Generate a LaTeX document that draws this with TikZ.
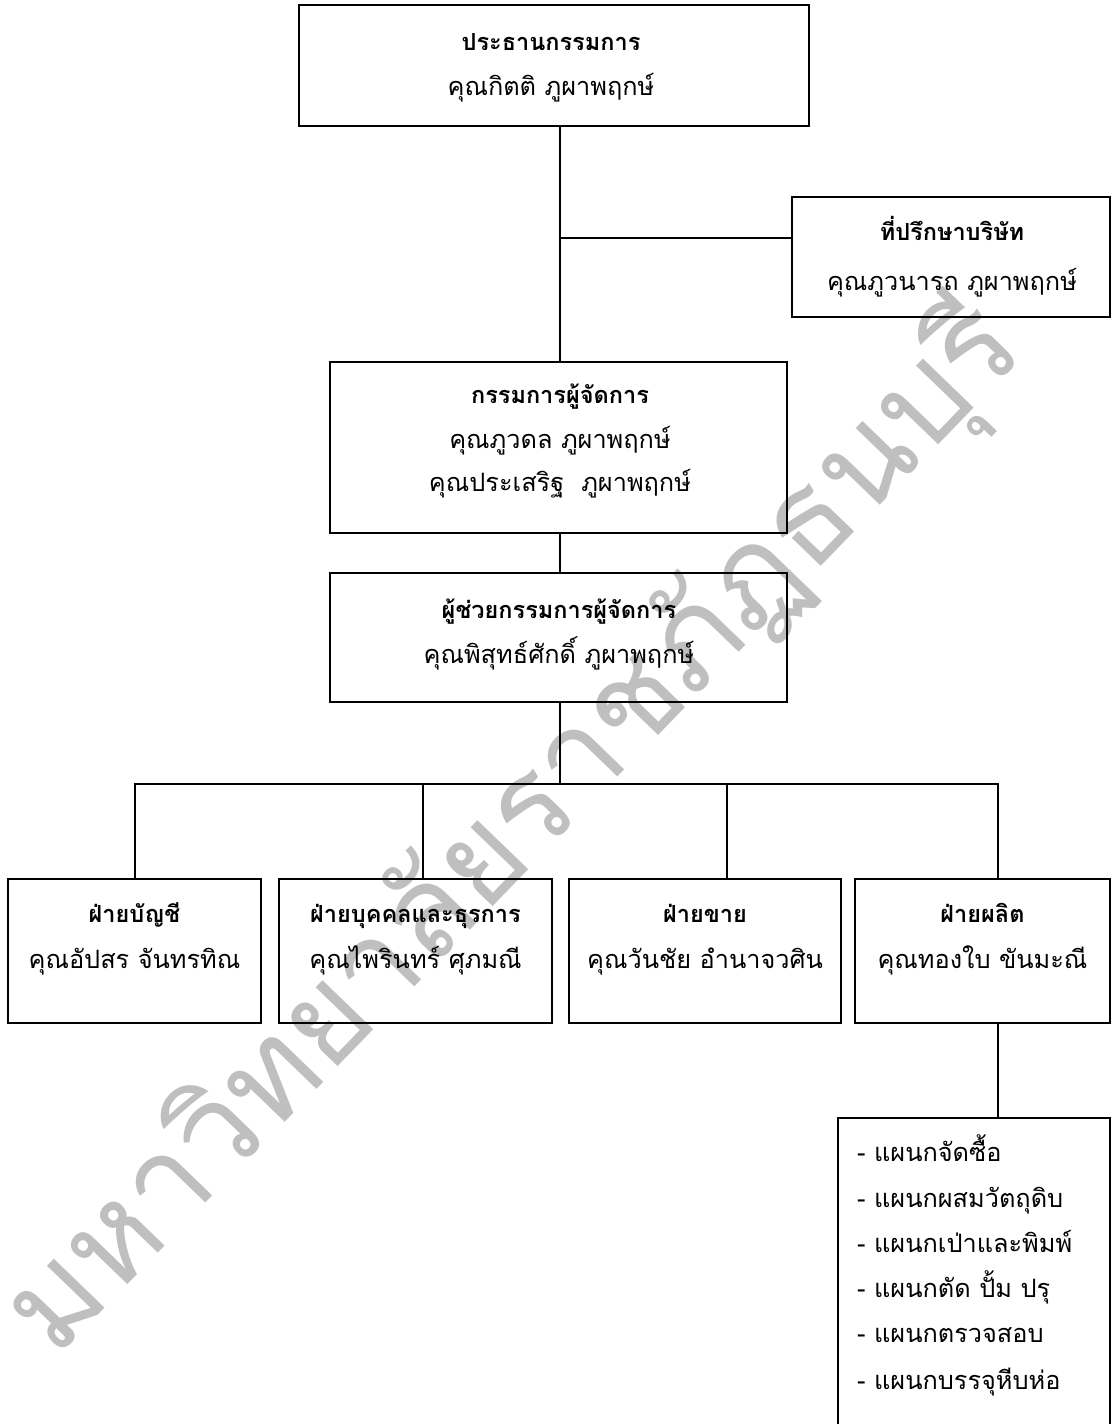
\documentclass[tikz,border=0pt]{standalone}
\usepackage{fontspec}
\newfontfamily\thai[Script=Thai]{Loma}
\begin{document}
\begin{tikzpicture}[x=1pt,y=-1pt,
  box/.style={draw,line width=2.2pt,inner sep=0pt},
  conn/.style={line width=1.6pt,line join=miter},
  ttl/.style={font=\thai\bfseries\fontsize{23.5}{28}\selectfont,anchor=mid,inner sep=0pt,yshift=-5pt},
  nm/.style={font=\thai\fontsize{25.3}{28}\selectfont,anchor=mid,inner sep=0pt,yshift=-5pt},
  lst/.style={font=\thai\fontsize{25.3}{28}\selectfont,anchor=mid west,inner sep=0pt,yshift=-5pt},
  wm/.style={font=\thai\fontsize{127}{127}\selectfont,text=black!25,rotate=46,inner sep=0pt}]
\useasboundingbox (0,0) rectangle (1112,1424);
\clip (0,0) rectangle (1112,1424);
% watermark
\node[wm] (wmark) at (515,830) {มหาวิทยาลัยราชภัฏธนบุรี};
% boxes
\node[box,minimum width=510pt,minimum height=121pt] (chair) at (554,65.5) {};
\node[box,minimum width=318pt,minimum height=120pt] (advisor) at (951,257) {};
\node[box,minimum width=457pt,minimum height=171pt] (md) at (558.5,447.5) {};
\node[box,minimum width=457pt,minimum height=129pt] (asst) at (558.5,637.5) {};
\node[box,minimum width=253pt,minimum height=144pt] (acc) at (134.5,951) {};
\node[box,minimum width=273pt,minimum height=144pt] (hr) at (415.5,951) {};
\node[box,minimum width=272pt,minimum height=144pt] (sales) at (705,951) {};
\node[box,minimum width=255pt,minimum height=144pt] (prod) at (982.5,951) {};
\node[box,minimum width=272pt,minimum height=330pt] (list) at (974,1283) {};
% texts
\node[ttl] (chairT) at (551,43) {ประธานกรรมการ};
\node[nm] (chairN) at (551,88) {คุณกิตติ ภูผาพฤกษ์};
\node[ttl] (advT) at (952,233) {ที่ปรึกษาบริษัท};
\node[nm] (advN) at (952,283) {คุณภูวนารถ ภูผาพฤกษ์};
\node[ttl] (mdT) at (560,396) {กรรมการผู้จัดการ};
\node[nm] (mdN1) at (560,441) {คุณภูวดล ภูผาพฤกษ์};
\node[nm] (mdN2) at (560,484) {คุณประเสริฐ\ \ ภูผาพฤกษ์};
\node[ttl] (asstT) at (559,611) {ผู้ช่วยกรรมการผู้จัดการ};
\node[nm] (asstN) at (559,656) {คุณพิสุทธ์ศักดิ์ ภูผาพฤกษ์};
\node[ttl] (accT) at (134.5,915) {ฝ่ายบัญชี};
\node[nm] (accN) at (134.5,961) {คุณอัปสร จันทรทิณ};
\node[ttl] (hrT) at (415.5,915) {ฝ่ายบุคคลและธุรการ};
\node[nm] (hrN) at (415.5,961) {คุณไพรินทร์ ศุภมณี};
\node[ttl] (salesT) at (705,915) {ฝ่ายขาย};
\node[nm] (salesN) at (705,961) {คุณวันชัย อำนาจวศิน};
\node[ttl] (prodT) at (982.5,915) {ฝ่ายผลิต};
\node[nm] (prodN) at (982.5,961) {คุณทองใบ ขันมะณี};
\node[lst] (l1) at (857,1154) {- แผนกจัดซื้อ};
\node[lst] (l2) at (857,1200) {- แผนกผสมวัตถุดิบ};
\node[lst] (l3) at (857,1245) {- แผนกเป่าและพิมพ์};
\node[lst] (l4) at (857,1290) {- แผนกตัด ปั้ม ปรุ};
\node[lst] (l5) at (857,1335) {- แผนกตรวจสอบ};
\node[lst] (l6) at (857,1382) {- แผนกบรรจุหีบห่อ};
% connectors
\coordinate (j0) at (560,238);
\coordinate (bus) at (560,784);
\coordinate (bL) at (135,784);
\coordinate (b2) at (423,784);
\coordinate (b3) at (727,784);
\coordinate (bR) at (998,784);
\draw[conn] (chair.south -| j0) -- (md.north -| j0);
\draw[conn] (j0) -- (advisor.west |- j0);
\draw[conn] (md.south -| j0) -- (asst.north -| j0);
\draw[conn] (asst.south -| bus) -- (bus);
\draw[conn] (acc.north -| bL) -- (bL) -- (bR) -- (prod.north -| bR);
\draw[conn] (b2) -- (hr.north -| b2);
\draw[conn] (b3) -- (sales.north -| b3);
\draw[conn] (prod.south -| bR) -- (list.north -| bR);
\end{tikzpicture}
\end{document}
